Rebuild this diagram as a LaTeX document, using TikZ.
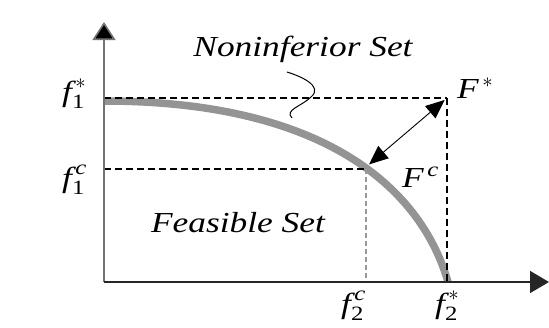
\documentclass[tikz,border=0pt]{standalone}
\usepackage{amsmath}
\usepackage{fontspec}
\setmainfont{Liberation Serif}
\newfontfamily\wideit[FakeStretch=1.22]{Liberation Serif}
\usetikzlibrary{arrows.meta}
\begin{document}
\begin{tikzpicture}[x=1pt,y=-1pt,
  lab/.style={font=\wideit\fontsize{29}{33}\selectfont, inner sep=0pt},
  settext/.style={font=\wideit\itshape\fontsize{29}{34}\selectfont, inner sep=0pt},
  axisline/.style={line width=1.6pt, draw=black!85, -{Triangle[length=19pt,width=22pt]}},
  yaxisline/.style={line width=1.6pt, draw=black!55, -{Triangle[length=18pt,width=23pt,fill=black]}},
  guide/.style={dash pattern=on 7pt off 4pt, line width=1.3pt, draw=black},
  gguide/.style={dash pattern=on 5pt off 3pt, line width=2.2pt, draw=black!40},
  frontier/.style={line width=7.5pt, draw=black!42},
  dblarrow/.style={line width=0.9pt, {Triangle[length=19pt,width=16pt]}-{Triangle[length=19pt,width=16pt]}},
  squig/.style={line width=1pt}
]
\useasboundingbox (0,0) rectangle (549,327);
\coordinate (O) at (104,282);
\coordinate (Ytop) at (104,22);
\coordinate (Xend) at (549,282);
\coordinate (C0) at (104,101);
\coordinate (C1) at (448,282);
\coordinate (Fs) at (447,98);
\coordinate (Fc) at (366,167);
\coordinate (H1) at (104,98);
\coordinate (H2) at (104,169);
\coordinate (Fc2) at (366,169);
\coordinate (V1) at (447,282);
\coordinate (V2) at (366,282);
\coordinate (S0) at (287,72);
\coordinate (S1) at (311,97);
\coordinate (S2) at (292,118);
% frontier curve
\draw[frontier] (C0) .. controls (320,101) and (420,185) .. (C1);
% guides
\draw[guide] (H1) -- (Fs);
\draw[guide] (Fs) -- (V1);
\draw[guide] (H2) -- (Fc2);
\draw[gguide] (Fc2) -- (V2);
% axes
\draw[yaxisline] (O) -- (Ytop);
\draw[axisline] (O) -- (Xend);
% double arrow
\draw[dblarrow, shorten <=4pt, shorten >=3pt] (Fc) -- (Fs);
% squiggle
\draw[squig] (S0) .. controls (300,76) and (324,86) .. (S1) .. controls (302,106) and (284,110) .. (S2);
% texts
\node[settext, anchor=base] (nis) at (303,56) {Noninferior Set};
\node[settext, anchor=base] (fs) at (238,232) {Feasible Set};
\node[lab, anchor=base west] (f1s) at (62,101) {$\text{\itshape f}_{\text{1}}^{\,*}$};
\node[lab, anchor=base west] (f1c) at (62,187) {$\text{\itshape f}_{\text{1}}^{\,\text{\itshape c}}$};
\node[lab, anchor=base west] (f2c) at (341,313) {$\text{\itshape f}_{\text{2}}^{\,\text{\itshape c}}$};
\node[lab, anchor=base west] (f2s) at (435,313) {$\text{\itshape f}_{\text{2}}^{\,*}$};
\node[lab, anchor=base west] (Fsl) at (457,98) {$\text{\itshape F}^{\,*}$};
\node[lab, anchor=base west] (Fcl) at (402,187) {$\text{\itshape F}^{\,\text{\itshape c}}$};
\end{tikzpicture}
\end{document}
